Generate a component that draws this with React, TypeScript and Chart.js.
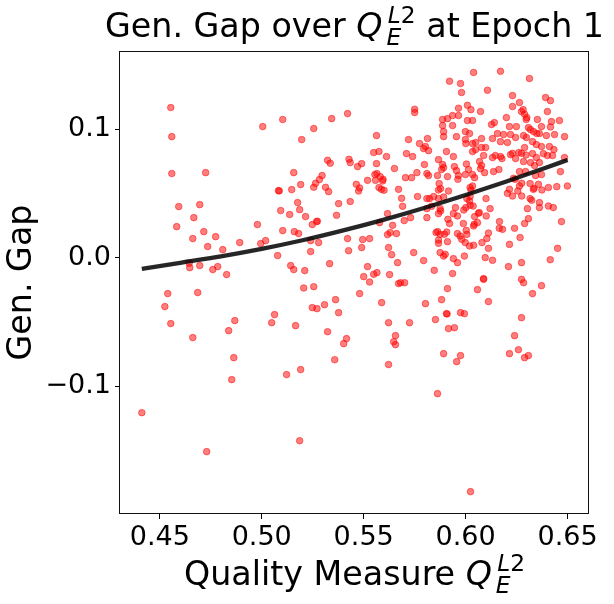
import React, { useEffect, useRef } from 'react';
import { Chart, registerables } from 'chart.js';

Chart.register(...registerables);

// Axis ranges and ticks
const X_MIN = 0.4305;
const X_MAX = 0.6605;
const Y_MIN = -0.1994;
const Y_MAX = 0.1607;
const xTicks = [0.45, 0.5, 0.55, 0.6, 0.65];
const xTickLabels = ['0.45', '0.50', '0.55', '0.60', '0.65'];
const yTicks = [-0.1, 0.0, 0.1];
const yTickLabels = ['\u22120.1', '0.0', '0.1'];

// Fitted trend curve
const fitX = [0.4412, 0.46, 0.48, 0.5, 0.52, 0.54, 0.56, 0.58, 0.6, 0.62, 0.64, 0.65];
const fitY = [-0.0088, -0.004, 0.001, 0.0068, 0.0135, 0.0212, 0.0296, 0.0388, 0.0487, 0.0592, 0.0703, 0.076];

// Scatter samples: [quality measure, generalisation gap]
const samples: [number, number][] = [
  [0.4554, 0.1167], [0.4559, 0.0941], [0.4559, 0.0654], [0.4725, 0.0661], [0.4593, 0.0397],
  [0.4696, 0.0412], [0.4667, 0.0311], [0.4583, 0.0241], [0.4716, 0.0202], [0.4662, 0.0148],
  [0.4774, 0.0163], [0.4735, 0.0086], [0.4809, 0.0062], [0.4892, 0.0117], [0.4979, 0.0257],
  [0.4995, 0.0109], [0.5019, 0.0132], [0.5005, 0.1019], [0.5103, 0.1074], [0.5196, 0.0918],
  [0.5255, 0.1004], [0.5343, 0.1081], [0.5421, 0.112], [0.5157, 0.0661], [0.5082, 0.0521],
  [0.5086, 0.0519], [0.5147, 0.0529], [0.5191, 0.0568], [0.5323, 0.0757], [0.5336, 0.0734],
  [0.5296, 0.0638], [0.5283, 0.0607], [0.5264, 0.0578], [0.5255, 0.0547], [0.5313, 0.0547],
  [0.5328, 0.0513], [0.5428, 0.0765], [0.5434, 0.0739], [0.547, 0.0708], [0.5464, 0.057],
  [0.5475, 0.0518], [0.5434, 0.0436], [0.5377, 0.042], [0.5367, 0.0329], [0.5176, 0.0428],
  [0.5186, 0.0373], [0.5137, 0.0335], [0.5093, 0.0366], [0.5215, 0.0319], [0.5269, 0.028],
  [0.5273, 0.0283], [0.5248, 0.0257], [0.5103, 0.021], [0.516, 0.0202], [0.5181, 0.0187],
  [0.524, 0.0132], [0.5279, 0.0117], [0.524, 0.0047], [0.5078, 0.0016], [0.5421, 0.0148],
  [0.5426, 0.0054], [0.5333, -0.0047], [0.5142, -0.0062], [0.5157, -0.0093], [0.5211, -0.0101],
  [0.5206, -0.0236], [0.5255, -0.0226], [0.4644, -0.0044], [0.4647, -0.0078], [0.4696, -0.0062],
  [0.476, -0.0093], [0.4784, -0.007], [0.4828, -0.0132],
  [0.4539, -0.028], [0.4686, -0.0272], [0.4525, -0.0381], [0.4554, -0.0513], [0.4662, -0.0622],
  [0.4412, -0.1206], [0.473, -0.1509], [0.4868, -0.049], [0.4838, -0.0568], [0.4863, -0.0778],
  [0.4853, -0.0949], [0.5063, -0.0443], [0.5049, -0.0506], [0.5166, -0.0529], [0.5248, -0.0389],
  [0.5271, -0.0397], [0.5308, -0.0366], [0.5362, -0.0327], [0.5377, -0.0428], [0.5323, -0.0576],
  [0.5416, -0.063], [0.5402, -0.0669], [0.5358, -0.0794], [0.5191, -0.0871], [0.5122, -0.091],
  [0.5186, -0.1424], [0.548, -0.028],
  [0.5529, -0.019], [0.5588, -0.035], [0.5671, -0.0202], [0.5681, -0.0195], [0.5701, -0.0195],
  [0.5622, -0.0506], [0.5725, -0.0506], [0.5656, -0.0607], [0.5647, -0.0654], [0.5656, -0.0677],
  [0.5622, -0.0832], [0.5803, -0.0358], [0.5882, -0.0327], [0.5911, -0.0241], [0.5852, -0.0482],
  [0.5906, -0.0436], [0.5909, -0.0438], [0.5975, -0.0428], [0.5994, -0.0436], [0.5916, -0.0552],
  [0.5945, -0.0545], [0.5892, -0.0747], [0.5975, -0.0762], [0.5956, -0.0809], [0.5862, -0.1058],
  [0.6024, -0.182], [0.6058, -0.0249], [0.6088, -0.0169], [0.6112, -0.0342], [0.6274, -0.0169],
  [0.6284, -0.0195], [0.6372, -0.0218], [0.6328, -0.028], [0.6274, -0.0467], [0.624, -0.0607],
  [0.6259, -0.0716], [0.6215, -0.0747], [0.6289, -0.0778], [0.6308, -0.0762],
  [0.575, 0.1154], [0.575, 0.1128], [0.5563, 0.0949], [0.572, 0.0918], [0.5774, 0.0887],
  [0.5794, 0.0848], [0.5803, 0.0864], [0.5813, 0.0926], [0.5818, 0.0832], [0.5549, 0.0817],
  [0.5575, 0.0825], [0.5612, 0.0786], [0.571, 0.0809], [0.574, 0.0786], [0.549, 0.0731],
  [0.5563, 0.0731], [0.5651, 0.0693], [0.5555, 0.0646], [0.5565, 0.0654], [0.5581, 0.063],
  [0.5595, 0.0609], [0.5593, 0.0596], [0.5519, 0.0601], [0.5558, 0.0601], [0.5705, 0.0622],
  [0.5735, 0.0622], [0.5761, 0.0661], [0.5798, 0.0724], [0.581, 0.0654], [0.5818, 0.0638],
  [0.548, 0.0542], [0.5575, 0.0545], [0.5587, 0.0531], [0.56, 0.0524], [0.5671, 0.0531],
  [0.5764, 0.0475], [0.5686, 0.0461], [0.5691, 0.0399], [0.5617, 0.0342], [0.5699, 0.0288],
  [0.573, 0.0311], [0.581, 0.0381], [0.581, 0.0311], [0.5578, 0.0272], [0.5642, 0.0251],
  [0.5617, 0.0179], [0.563, 0.0195], [0.5661, 0.0187], [0.5495, 0.014], [0.5529, 0.0148],
  [0.549, 0.0078], [0.5622, 0.0078], [0.5637, 0.0023], [0.5666, -0.0039], [0.5745, 0.0039],
  [0.5794, -0.0023], [0.5519, -0.007], [0.55, -0.0148], [0.5549, -0.013], [0.5565, -0.0117],
  [0.5627, -0.0132],
  [0.6039, 0.144], [0.6171, 0.1449], [0.5921, 0.1372], [0.5975, 0.1354], [0.598, 0.1284],
  [0.6313, 0.1393], [0.6107, 0.1302], [0.623, 0.126], [0.6392, 0.1245], [0.6416, 0.1221],
  [0.623, 0.1175], [0.6264, 0.1206], [0.6009, 0.1185], [0.6026, 0.1151], [0.5965, 0.1162],
  [0.6073, 0.1136], [0.6282, 0.1151], [0.6274, 0.1136], [0.6289, 0.1115], [0.63, 0.1089],
  [0.6297, 0.1074], [0.6401, 0.1136], [0.62, 0.1089], [0.6352, 0.1074], [0.6421, 0.1058],
  [0.646, 0.1066], [0.5936, 0.1105], [0.5911, 0.1081], [0.5887, 0.1074], [0.5887, 0.1027],
  [0.5965, 0.1105], [0.5936, 0.1027], [0.6009, 0.1066], [0.6034, 0.1066], [0.6127, 0.1035],
  [0.6141, 0.105], [0.6215, 0.1019], [0.6249, 0.1019], [0.6308, 0.1011], [0.6318, 0.0996],
  [0.6333, 0.098], [0.6349, 0.0965], [0.6362, 0.0965], [0.6372, 0.1019], [0.6416, 0.1016],
  [0.5892, 0.098], [0.5999, 0.098], [0.6019, 0.0965], [0.5892, 0.0941], [0.5955, 0.0941],
  [0.5999, 0.0918], [0.6001, 0.0887], [0.6034, 0.0887], [0.6049, 0.0895], [0.6078, 0.0926],
  [0.6132, 0.0926], [0.6156, 0.0965], [0.6186, 0.0957], [0.622, 0.0957], [0.6245, 0.0934],
  [0.6171, 0.0902], [0.6205, 0.0895], [0.6284, 0.0949], [0.6298, 0.0934], [0.6396, 0.0949],
  [0.6436, 0.0957], [0.6485, 0.0941], [0.6328, 0.0902], [0.6347, 0.0879], [0.6372, 0.0864],
  [0.6411, 0.0864], [0.6289, 0.0856], [0.5906, 0.0825], [0.6078, 0.0856], [0.6098, 0.0856],
  [0.6034, 0.0825], [0.6049, 0.084], [0.594, 0.0786], [0.6088, 0.0794], [0.6132, 0.0778],
  [0.6146, 0.0794], [0.6171, 0.0786], [0.6178, 0.077], [0.622, 0.0801], [0.623, 0.0811],
  [0.6261, 0.0817], [0.6274, 0.0811], [0.6245, 0.077], [0.6284, 0.0747], [0.6296, 0.0798],
  [0.6328, 0.0809], [0.6347, 0.0778], [0.6381, 0.0809], [0.6401, 0.0794], [0.6433, 0.084],
  [0.6426, 0.0794], [0.6318, 0.0739], [0.6338, 0.0716], [0.6362, 0.0739], [0.5867, 0.0762],
  [0.5887, 0.0724], [0.5892, 0.07], [0.5882, 0.0685], [0.5945, 0.0708], [0.5955, 0.0677],
  [0.6004, 0.0728], [0.6014, 0.0685], [0.6034, 0.0646], [0.6068, 0.0747], [0.6078, 0.0716],
  [0.6073, 0.0692], [0.6093, 0.0661], [0.6137, 0.0669], [0.6163, 0.0685], [0.5862, 0.0638],
  [0.6264, 0.0669], [0.6294, 0.0669], [0.6343, 0.0638], [0.6372, 0.0646], [0.6465, 0.0669],
  [0.6485, 0.0778], [0.5911, 0.063], [0.5965, 0.0638], [0.5999, 0.0646],
  [0.5962, 0.0609], [0.6044, 0.0622], [0.6235, 0.0617], [0.6243, 0.0609], [0.587, 0.0576],
  [0.5877, 0.0537], [0.5867, 0.0526], [0.5916, 0.0518], [0.5843, 0.0475], [0.5823, 0.0459],
  [0.581, 0.0459], [0.5867, 0.0459], [0.5892, 0.0471], [0.5833, 0.0399], [0.5875, 0.0381],
  [0.5877, 0.0363], [0.5867, 0.0342], [0.5913, 0.0298], [0.5921, 0.0265], [0.595, 0.0389],
  [0.594, 0.0342], [0.596, 0.0324], [0.5991, 0.037], [0.6001, 0.0389], [0.6022, 0.0475],
  [0.6006, 0.0459], [0.6019, 0.044], [0.6037, 0.0401], [0.6022, 0.0407], [0.6026, 0.0526],
  [0.6022, 0.0545], [0.6034, 0.0557], [0.61, 0.0459], [0.612, 0.0381], [0.6067, 0.035],
  [0.6063, 0.0345], [0.6101, 0.0324], [0.6044, 0.0319], [0.6058, 0.0272], [0.6039, 0.0246],
  [0.6042, 0.0259], [0.5989, 0.0265], [0.596, 0.0187], [0.5973, 0.0168], [0.5981, 0.0142],
  [0.5998, 0.0117], [0.6019, 0.009], [0.6039, 0.0096], [0.6003, 0.0212], [0.6006, 0.0181],
  [0.608, 0.0117], [0.6112, 0.0191], [0.6104, 0.0148], [0.6112, 0.0072], [0.5863, 0.0202],
  [0.5855, 0.0195], [0.5875, 0.0181], [0.5867, 0.0137], [0.5867, 0.0111], [0.5911, 0.0124],
  [0.5896, 0.0181], [0.5907, 0.0199], [0.5875, 0.0039], [0.5892, 0.0012], [0.59, 0.0026],
  [0.594, -0.0008], [0.596, -0.0039], [0.5994, 0.0012], [0.6096, 0.0], [0.6132, -0.0021],
  [0.5846, -0.0099], [0.5936, -0.0124], [0.6088, -0.0163], [0.6215, 0.0103], [0.621, -0.007],
  [0.6274, -0.0039], [0.6415, -0.0016], [0.6451, 0.0072], [0.647, 0.028], [0.6267, 0.0156],
  [0.624, 0.0228], [0.6166, 0.028], [0.6165, 0.0228], [0.6181, 0.022], [0.6289, 0.0265],
  [0.6308, 0.0303], [0.6303, 0.0381], [0.6324, 0.0446], [0.6316, 0.0459], [0.6362, 0.0389],
  [0.6362, 0.0428], [0.6406, 0.0401], [0.643, 0.0389], [0.6205, 0.05], [0.623, 0.0479],
  [0.6215, 0.0531], [0.6256, 0.0518], [0.6275, 0.0479], [0.6264, 0.0557], [0.6275, 0.0578],
  [0.6316, 0.0576], [0.6336, 0.0539], [0.6374, 0.0526], [0.6406, 0.0545], [0.6447, 0.0552],
  [0.6499, 0.0557], [0.6357, 0.057], [0.6332, 0.0531],
];

const FONT = '"DejaVu Sans", "Liberation Sans", sans-serif';
const LABEL_SIZE = 33.3;
const TICK_SIZE = 27;

// Q_E^{L2} in mathtext style; returns advance width
function drawQ(ctx: CanvasRenderingContext2D, x: number, base: number, size: number, draw: boolean): number {
  ctx.font = `italic ${size}px ${FONT}`;
  const qw = ctx.measureText('Q').width;
  if (draw) ctx.fillText('Q', x, base);
  const s = size * 0.7;
  const sx = x + qw + size * 0.12;
  ctx.font = `italic ${s}px ${FONT}`;
  const ew = ctx.measureText('E').width;
  const lw = ctx.measureText('L').width;
  if (draw) {
    ctx.fillText('E', sx, base + size * 0.25);
    ctx.fillText('L', sx + size * 0.04, base - size * 0.41);
  }
  ctx.font = `${s}px ${FONT}`;
  const tw = ctx.measureText('2').width;
  if (draw) ctx.fillText('2', sx + size * 0.04 + lw, base - size * 0.41);
  return qw + size * 0.12 + Math.max(ew, size * 0.04 + lw + tw);
}

const textPlugin = {
  id: 'mplText',
  afterDraw(chart: any) {
    const ctx: CanvasRenderingContext2D = chart.ctx;
    const a = chart.chartArea;
    ctx.save();
    // frame
    ctx.strokeStyle = '#111';
    ctx.lineWidth = 1;
    ctx.strokeRect(Math.round(a.left) - 0.5, Math.round(a.top) + 0.5, Math.round(a.right - a.left), Math.round(a.bottom - a.top) - 1);

    ctx.fillStyle = '#000';
    ctx.textAlign = 'left';
    ctx.textBaseline = 'alphabetic';
    const cx = (a.left + a.right) / 2;

    // title
    const t1 = 'Gen. Gap over ';
    const t2 = ' at Epoch 1';
    ctx.font = `${LABEL_SIZE}px ${FONT}`;
    const w1 = ctx.measureText(t1).width;
    const w2 = ctx.measureText(t2).width;
    const wq = drawQ(ctx, 0, 0, LABEL_SIZE, false);
    let x = cx - (w1 + wq + w2) / 2;
    const tb = 37;
    ctx.font = `${LABEL_SIZE}px ${FONT}`;
    ctx.fillText(t1, x, tb);
    x += w1;
    drawQ(ctx, x, tb, LABEL_SIZE, true);
    x += wq;
    ctx.font = `${LABEL_SIZE}px ${FONT}`;
    ctx.fillText(t2, x, tb);

    // x label
    const xl = 'Quality Measure ';
    ctx.font = `${LABEL_SIZE}px ${FONT}`;
    const wx = ctx.measureText(xl).width;
    let x2 = cx - (wx + wq) / 2;
    const xb = 585;
    ctx.fillText(xl, x2, xb);
    x2 += wx;
    drawQ(ctx, x2, xb, LABEL_SIZE, true);

    // y label
    ctx.save();
    ctx.translate(31, (a.top + a.bottom) / 2);
    ctx.rotate(-Math.PI / 2);
    ctx.textAlign = 'center';
    ctx.font = `${LABEL_SIZE}px ${FONT}`;
    ctx.fillText('Gen. Gap', 0, 0);
    ctx.restore();
    ctx.restore();
  },
};

export default function App() {
  const ref = useRef<HTMLCanvasElement | null>(null);
  useEffect(() => {
    document.body.style.margin = '0';
    const canvas = ref.current;
    if (!canvas) return;
    const chart = new Chart(canvas, {
      type: 'scatter',
      data: {
        datasets: [
          {
            label: 'fit',
            data: fitX.map((v, i) => ({ x: v, y: fitY[i] })),
            showLine: true,
            borderColor: 'rgba(0,0,0,0.85)',
            borderWidth: 4.3,
            pointRadius: 0,
            tension: 0.4,
            cubicInterpolationMode: 'monotone',
            fill: false,
          } as any,
          {
            label: 'samples',
            data: samples.map(([qx, gy]) => ({ x: qx, y: gy })),
            pointRadius: 3.3,
            pointBackgroundColor: 'rgba(255,0,0,0.5)',
            pointBorderWidth: 1,
            pointBorderColor: 'rgba(255,0,0,0.5)',
            showLine: false,
          } as any,
        ],
      },
      options: {
        responsive: false,
        animation: false,
        devicePixelRatio: 1,
        events: [],
        layout: { padding: { top: 51, right: 25, left: 0, bottom: 0 } },
        plugins: {
          legend: { display: false },
          tooltip: { enabled: false },
          title: { display: false },
        },
        scales: {
          x: {
            type: 'linear',
            min: X_MIN,
            max: X_MAX,
            afterBuildTicks: (axis: any) => {
              axis.ticks = xTicks.map((v) => ({ value: v }));
            },
            afterFit: (axis: any) => {
              axis.height = 90;
            },
            ticks: {
              autoSkip: false,
              maxRotation: 0,
              minRotation: 0,
              padding: 3,
              color: '#000',
              font: { family: FONT, size: TICK_SIZE },
              callback: (v: any) => {
                const i = xTicks.findIndex((t) => Math.abs(t - Number(v)) < 1e-9);
                return i >= 0 ? xTickLabels[i] : '';
              },
            },
            grid: { drawOnChartArea: false, drawTicks: true, tickLength: 5, color: '#000', lineWidth: 1 },
            border: { display: false },
          },
          y: {
            type: 'linear',
            min: Y_MIN,
            max: Y_MAX,
            afterBuildTicks: (axis: any) => {
              axis.ticks = yTicks.map((v) => ({ value: v }));
            },
            afterFit: (axis: any) => {
              axis.width = 120;
            },
            ticks: {
              autoSkip: false,
              padding: 4,
              color: '#000',
              font: { family: FONT, size: TICK_SIZE },
              callback: (v: any) => {
                const i = yTicks.findIndex((t) => Math.abs(t - Number(v)) < 1e-9);
                return i >= 0 ? yTickLabels[i] : '';
              },
            },
            grid: { drawOnChartArea: false, drawTicks: true, tickLength: 5, color: '#000', lineWidth: 1 },
            border: { display: false },
          },
        },
      } as any,
      plugins: [textPlugin],
    });
    return () => chart.destroy();
  }, []);
  return (
    <div style={{ width: 614, height: 604, background: '#fff' }}>
      <canvas ref={ref} width={614} height={604} style={{ display: 'block' }} />
    </div>
  );
}
